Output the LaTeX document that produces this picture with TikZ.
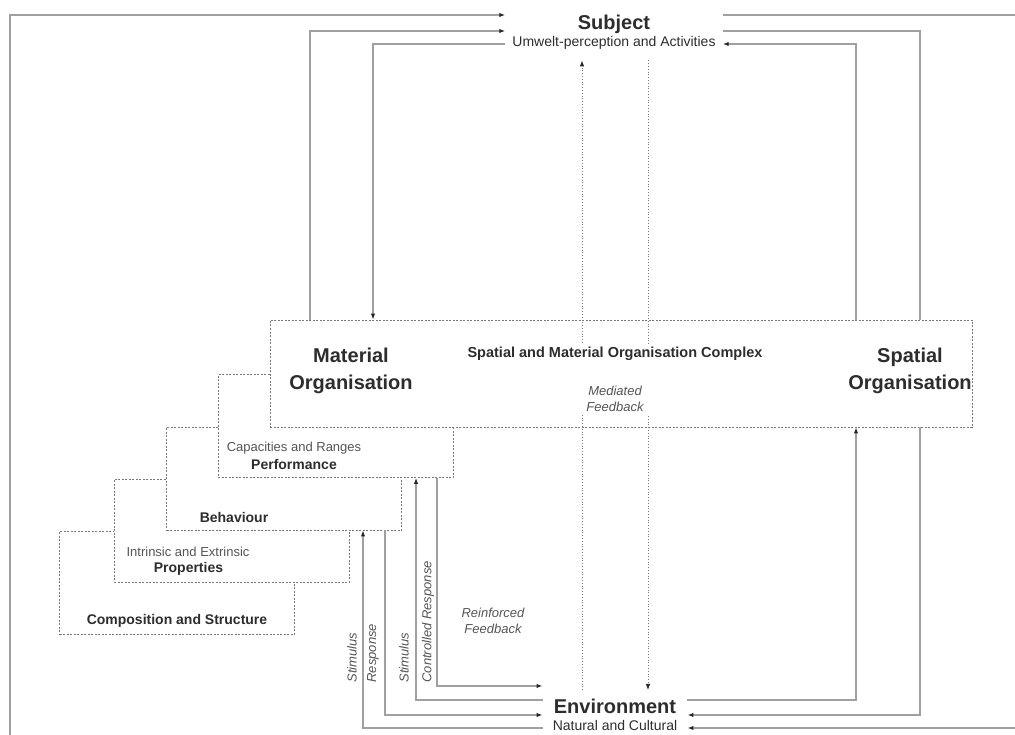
\documentclass[tikz,border=0pt]{standalone}
\usepackage{fontspec}
\setmainfont{Liberation Sans}
\usetikzlibrary{arrows.meta}

\definecolor{lineColor}{RGB}{160,160,160}
\definecolor{tipColor}{RGB}{40,40,40}
\definecolor{dotColor}{RGB}{120,120,120}
\definecolor{textDark}{RGB}{45,45,45}
\definecolor{textSoft}{RGB}{85,85,85}

\begin{document}
\begin{tikzpicture}[
  x=1pt, y=-1pt,
  link/.style={draw=lineColor, line width=1.3pt},
  tip/.style={-{Latex[length=6pt, width=4.5pt, color=tipColor]}},
  feedback/.style={draw=dotColor, line width=0.8pt, dotted},
  layer/.style={draw=dotColor, line width=0.8pt, dash pattern=on 2pt off 1.5pt, fill=white, minimum width=235pt, minimum height=103pt, inner sep=0pt},
  heading/.style={font=\fontsize{20}{27}\selectfont\bfseries, text=textDark, align=center},
  caption/.style={font=\fontsize{14}{16}\selectfont\bfseries, text=textDark},
  note/.style={font=\fontsize{13}{15}\selectfont, text=textSoft},
  cue/.style={font=\fontsize{13}{16}\selectfont\itshape, text=textSoft, align=center}
]
\useasboundingbox (0,0) rectangle (1015,735);
\clip (0,0) rectangle (1015,735);

% Subject and Environment
\node[align=center, inner xsep=7pt, inner ysep=11pt, text=textDark, font=\fontsize{14}{17}\selectfont] (subject) at (614,32)
  {{\fontsize{20}{22}\selectfont\bfseries Subject}\\Umwelt-perception and Activities};
\node[align=center, inner xsep=10pt, inner ysep=9pt, text=textDark, font=\fontsize{14}{17}\selectfont] (env) at (615,715)
  {{\fontsize{20}{22}\selectfont\bfseries Environment}\\Natural and Cultural};

% Stacked layers (back to front)
\node[layer] (comp) at (177,582.5) {};
\node[layer] (prop) at (231.5,530.5) {};
\node[layer] (behav) at (284,478.5) {};
\node[layer] (perf) at (335.5,426) {};
\node[layer, minimum width=702pt, minimum height=107pt] (complex) at (621,373.5) {};

% Layer texts
\node[caption] (compname) at (177,621) {Composition and Structure};
\node[note] (propnote) at (188,552) {Intrinsic and Extrinsic};
\node[caption] (propname) at (188.5,569) {Properties};
\node[caption] (behavname) at (234,517) {Behaviour};
\node[note] (perfnote) at (294,448) {Capacities and Ranges};
\node[caption] (perfname) at (294,464) {Performance};
\node[heading] (material) at (351,371) {Material\\Organisation};
\node[heading] (spatial) at (910,371) {Spatial\\Organisation};

% Lanes
\coordinate (topA) at (0,15);
\coordinate (topB) at (0,31);
\coordinate (topC) at (0,44);
\coordinate (lowA) at (0,686);
\coordinate (lowB) at (0,700);
\coordinate (lowC) at (0,715);
\coordinate (lowD) at (0,728);
\coordinate (edgeL) at (10,760);
\coordinate (edgeR) at (1040,400);
\coordinate (matOut) at (310,0);
\coordinate (matIn) at (373,0);
\coordinate (spaIn) at (856,0);
\coordinate (spaOut) at (920,0);
\coordinate (medUp) at (582,0);
\coordinate (medDown) at (648,0);
\coordinate (stimA) at (363,0);
\coordinate (respA) at (385,0);
\coordinate (stimB) at (416,0);
\coordinate (respB) at (437,0);

% Mediated feedback (dotted)
\draw[feedback, tip] (env.north -| medUp) -- (subject.south -| medUp);
\draw[feedback, tip] (subject.south -| medDown) -- (env.north -| medDown);

\node[fill=white, align=center, inner sep=3pt, text=textDark, font=\fontsize{13}{16}\selectfont] (complextitle) at (615,379)
  {\bfseries\fontsize{14.5}{17}\selectfont Spatial and Material Organisation Complex\\[22pt]\color{textSoft}\itshape Mediated\\\color{textSoft}\itshape Feedback};

% Outer loops
\draw[link, tip] (edgeL) |- (subject.west |- topA);
\draw[link, tip] (subject.east |- topA) -| (edgeR) |- (env.east |- lowD);

% Material organisation
\draw[link, tip] (complex.north -| matOut) |- (subject.west |- topB);
\draw[link, tip] (subject.west |- topC) -| (complex.north -| matIn);

% Spatial organisation
\draw[link] (subject.east |- topB) -| (complex.north -| spaOut);
\draw[link, tip] (complex.south -| spaOut) |- (env.east |- lowC);
\draw[link, tip] (complex.north -| spaIn) |- (subject.east |- topC);
\draw[link, tip] (env.east |- lowB) -| (complex.south -| spaIn);

% Behaviour and performance
\draw[link, tip] (env.west |- lowD) -| (behav.south -| stimA);
\draw[link, tip] (behav.south -| respA) |- (env.west |- lowC);
\draw[link, tip] (env.west |- lowB) -| (perf.south -| stimB);
\draw[link, tip] (perf.south -| respB) |- (env.west |- lowA);

% Connector labels
\node[cue, rotate=90, anchor=west] (stimAlabel) at (352,686) {Stimulus};
\node[cue, rotate=90, anchor=west] (respAlabel) at (373,686) {Response};
\node[cue, rotate=90, anchor=west] (stimBlabel) at (404,686) {Stimulus};
\node[cue, rotate=90, anchor=west] (respBlabel) at (428,686) {Controlled Response};
\node[cue] (reinforced) at (493,621) {Reinforced\\Feedback};

\end{tikzpicture}
\end{document}
